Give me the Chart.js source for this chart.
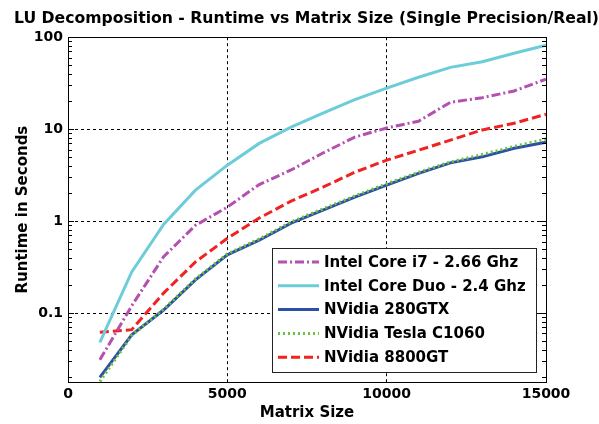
<!DOCTYPE html>
<html>
<head>
<meta charset="utf-8">
<script src="https://cdn.jsdelivr.net/npm/chart.js@4/dist/chart.umd.min.js"></script>
<style>
  html, body { margin: 0; padding: 0; background: #fff; }
</style>
</head>
<body>
<canvas id="c" width="599" height="424"></canvas>
<script>
// matrix sizes
var sizes = [1000, 2000, 3000, 4000, 5000, 6000, 7000, 8000, 9000, 10000, 11000, 12000, 13000, 14000, 15000];

// runtimes in seconds
var corei7   = [0.031, 0.12, 0.41, 0.9, 1.42, 2.5, 3.6, 5.5, 8.2, 10.3, 12.2, 19.6, 22, 26, 35];
var coreDuo  = [0.048, 0.28, 0.92, 2.17, 4.06, 7.0, 10.5, 14.9, 21, 27.9, 36.7, 47, 54, 67, 82];
var gtx280   = [0.020, 0.058, 0.108, 0.23, 0.43, 0.62, 0.95, 1.32, 1.82, 2.46, 3.3, 4.3, 5.0, 6.2, 7.2];
var teslaC   = [0.018, 0.057, 0.11, 0.235, 0.44, 0.64, 0.98, 1.36, 1.88, 2.55, 3.4, 4.4, 5.3, 6.5, 7.8];
var gt8800   = [0.062, 0.066, 0.165, 0.36, 0.65, 1.08, 1.65, 2.34, 3.4, 4.6, 5.9, 7.6, 9.8, 11.6, 14.5];

var yTicks = [0.1, 1, 10, 100];
var xTicks = [0, 5000, 10000, 15000];

var FONT = '"DejaVu Sans", Arial, sans-serif';

function pts(vals) {
  return vals.map(function (v, i) { return { x: sizes[i], y: v }; });
}

function series(label, vals, color, dash, order) {
  return {
    label: label,
    data: pts(vals),
    borderColor: color,
    backgroundColor: color,
    borderWidth: 3,
    borderDash: dash,
    pointRadius: 0,
    tension: 0,
    fill: false,
    order: order
  };
}

// box, minor ticks and the inset legend
var frame = {
  id: 'frame',
  afterDatasetsDraw: function (chart) {
    var ctx = chart.ctx;
    var a = chart.chartArea;
    var ys = chart.scales.y;
    ctx.save();
    ctx.strokeStyle = '#000';
    ctx.lineWidth = 1;
    ctx.setLineDash([]);
    ctx.beginPath();
    for (var k = -2; k <= 1; k++) {
      for (var m = 1; m <= 9; m++) {
        var v = m * Math.pow(10, k);
        if (v < ys.min || v > ys.max) continue;
        var py = Math.round(ys.getPixelForValue(v)) + 0.5;
        var len = m === 1 ? 6 : 4;
        ctx.moveTo(a.left, py); ctx.lineTo(a.left + len, py);
        ctx.moveTo(a.right, py); ctx.lineTo(a.right - len, py);
      }
    }
    ctx.stroke();
    ctx.strokeRect(Math.round(a.left) + 0.5, Math.round(a.top) + 0.5,
      Math.round(a.right - a.left), Math.round(a.bottom - a.top));

    // legend
    var bw = 264, bh = 124;
    var bx = Math.round(a.right) - 10 - bw, by = Math.round(a.bottom) - 10 - bh;
    ctx.fillStyle = '#fff';
    ctx.fillRect(bx, by, bw, bh);
    ctx.strokeStyle = '#222';
    ctx.strokeRect(bx + 0.5, by + 0.5, bw, bh);
    ctx.font = 'bold 15px ' + FONT;
    ctx.textBaseline = 'middle';
    chart.data.datasets.forEach(function (ds, i) {
      var ly = by + 14 + i * 23.8;
      ctx.strokeStyle = ds.borderColor;
      ctx.lineWidth = 3;
      ctx.setLineDash(ds.borderDash || []);
      ctx.beginPath();
      ctx.moveTo(bx + 6, ly);
      ctx.lineTo(bx + 47, ly);
      ctx.stroke();
      ctx.fillStyle = '#000';
      ctx.fillText(ds.label, bx + 52, ly + 1);
    });
    ctx.restore();
  }
};

new Chart(document.getElementById('c'), {
  type: 'line',
  data: {
    datasets: [
      series('Intel Core i7 - 2.66 Ghz', corei7, '#b450b0', [9, 3, 2, 3], 0),
      series('Intel Core Duo - 2.4 Ghz', coreDuo, '#6ccdd9', [], 0),
      series('NVidia 280GTX', gtx280, '#2e4fa6', [], 0),
      series('NVidia Tesla C1060', teslaC, '#6cc23e', [2, 3], -1),
      series('NVidia 8800GT', gt8800, '#f02222', [9, 4], 0)
    ]
  },
  options: {
    responsive: false,
    animation: false,
    devicePixelRatio: 1,
    layout: { padding: { left: 14, right: 0, top: 0, bottom: 2 } },
    plugins: {
      legend: { display: false },
      tooltip: { enabled: false },
      title: {
        display: true,
        text: 'LU Decomposition - Runtime vs Matrix Size (Single Precision/Real)',
        color: '#000',
        font: { family: FONT, size: 16, weight: 'bold' },
        padding: { top: 9, bottom: 9 }
      }
    },
    scales: {
      x: {
        type: 'linear',
        min: 0,
        max: 15000,
        afterBuildTicks: function (s) { s.ticks = xTicks.map(function (v) { return { value: v }; }); },
        afterFit: function (s) { s.height = 40; },
        grid: { color: '#000', lineWidth: 1, drawTicks: false },
        border: { display: true, color: '#000', width: 1, dash: [3, 3] },
        ticks: {
          color: '#000',
          padding: 4,
          maxRotation: 0,
          font: { family: FONT, size: 14, weight: 'bold' },
          callback: function (v) { return String(v); }
        },
        title: {
          display: true,
          text: 'Matrix Size',
          color: '#000',
          padding: { top: 0, bottom: 0 },
          font: { family: FONT, size: 15, weight: 'bold' }
        }
      },
      y: {
        type: 'logarithmic',
        min: 0.0178,
        max: 100,
        afterBuildTicks: function (s) { s.ticks = yTicks.map(function (v) { return { value: v }; }); },
        afterFit: function (s) { s.width = 54; },
        grid: { color: '#000', lineWidth: 1, drawTicks: false },
        border: { display: true, color: '#000', width: 1, dash: [3, 3] },
        ticks: {
          color: '#000',
          padding: 5,
          font: { family: FONT, size: 14, weight: 'bold' },
          callback: function (v) { return String(v); }
        },
        title: {
          display: true,
          text: 'Runtime in Seconds',
          color: '#000',
          padding: { top: 0, bottom: 0 },
          font: { family: FONT, size: 15, weight: 'bold' }
        }
      },
      // empty right-hand axis that only reserves the margin
      yr: {
        type: 'linear',
        position: 'right',
        display: true,
        afterFit: function (s) { s.width = 53; },
        grid: { display: false, drawTicks: false },
        border: { display: false },
        ticks: { display: false },
        title: { display: false }
      }
    }
  },
  plugins: [frame]
});
</script>
</body>
</html>
